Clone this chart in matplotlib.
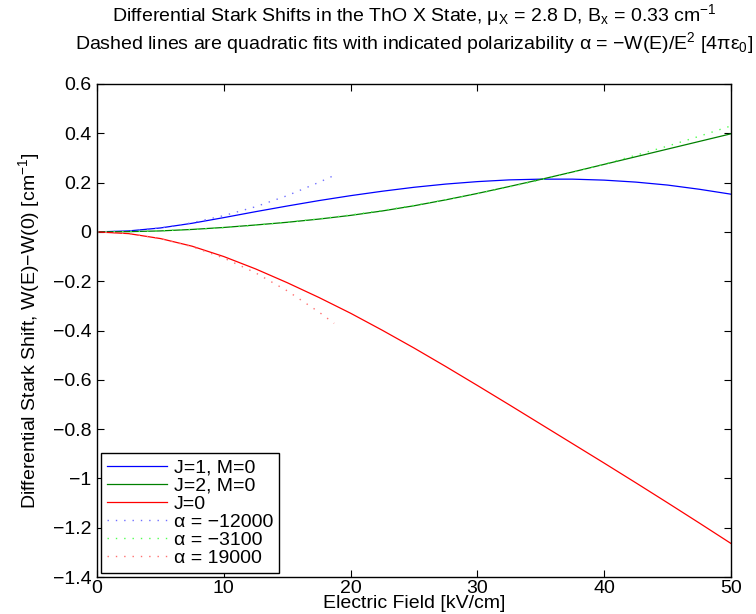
import matplotlib
matplotlib.use("Agg")
import matplotlib.pyplot as plt
import matplotlib.ticker as ticker

plt.rcParams["font.family"] = ["Liberation Sans", "DejaVu Sans"]
plt.rcParams["mathtext.fontset"] = "custom"
plt.rcParams["mathtext.rm"] = "Liberation Sans"
plt.rcParams["mathtext.it"] = "Liberation Sans:italic"

# === Data ===
field = [0, 2.5, 5, 7.5, 10, 12.5, 15, 17.5, 20, 22.5, 25, 27.5, 30,
         32.5, 35, 37.5, 40, 42.5, 45, 47.5, 50]

shift_j1 = [0, 0.004, 0.016, 0.035, 0.058, 0.082, 0.105, 0.127, 0.147, 0.165,
            0.181, 0.194, 0.204, 0.211, 0.214, 0.214, 0.210, 0.202, 0.190,
            0.173, 0.153]
shift_j2 = [0, 0.001, 0.004, 0.010, 0.018, 0.028, 0.039, 0.052, 0.067, 0.085,
            0.106, 0.130, 0.156, 0.184, 0.213, 0.243, 0.274, 0.305, 0.336,
            0.367, 0.398]
shift_j0 = [0, -0.007, -0.027, -0.058, -0.100, -0.150, -0.206, -0.266, -0.330,
            -0.399, -0.471, -0.546, -0.623, -0.701, -0.780, -0.859, -0.938,
            -1.018, -1.099, -1.181, -1.264]

# quadratic fit curves (dotted)
fit_field_short = [0, 2.5, 5, 7.5, 10, 12.5, 15, 17.5, 18.7]
fit_j1 = [0, 0.004, 0.016, 0.037, 0.066, 0.102, 0.147, 0.201, 0.229]
fit_j0 = [0, -0.007, -0.027, -0.060, -0.106, -0.166, -0.239, -0.325, -0.371]
fit_j2 = [0, 0.001, 0.004, 0.010, 0.017, 0.027, 0.039, 0.053, 0.069, 0.087,
          0.108, 0.130, 0.155, 0.182, 0.211, 0.242, 0.275, 0.311, 0.348,
          0.388, 0.430]

labels = ["J=1, M=0", "J=2, M=0", "J=0",
          "α = −12000", "α = −3100", "α = 19000"]

FS = 14

# === Figure ===
fig = plt.figure(figsize=(7.56, 6.14), dpi=100)
left, right, top, bottom = 97, 731, 84, 577
ax = fig.add_axes([left / 756, 1 - bottom / 614,
                   (right - left) / 756, (bottom - top) / 614])

ax.plot(field, shift_j1, color="#0000ff", lw=0.9, label=labels[0])
ax.plot(field, shift_j2, color="#008000", lw=0.9, label=labels[1])
ax.plot(field, shift_j0, color="#ff0000", lw=0.9, label=labels[2])

dots = (0, (1, 5))
ax.plot(fit_field_short, fit_j1, color="#7070ff", lw=1.0, ls=dots, label=labels[3])
ax.plot(field, fit_j2, color="#50ff50", lw=1.0, ls=dots, label=labels[4])
ax.plot(fit_field_short, fit_j0, color="#ff7070", lw=1.0, ls=dots, label=labels[5])

ax.set_xlim(0, 50)
ax.set_ylim(-1.4, 0.6)
ax.set_xticks([0, 10, 20, 30, 40, 50])
ax.set_yticks([0.6, 0.4, 0.2, 0, -0.2, -0.4, -0.6, -0.8, -1.0, -1.2, -1.4])
fmt = ticker.FuncFormatter(lambda v, _: f"{v:g}".replace("-", "\u2212"))
ax.yaxis.set_major_formatter(fmt)
ax.xaxis.set_major_formatter(fmt)
ax.tick_params(direction="in", length=5, width=0.8, top=True, right=True,
               labelsize=FS, pad=4)
ax.tick_params(axis="x", pad=2)
for sp in ax.spines.values():
    sp.set_linewidth(1.0)

ax.set_xlabel("Electric Field [kV/cm]", fontsize=FS, labelpad=-1)
ax.set_ylabel("Differential Stark Shift, W(E)\u2212W(0) [cm$^{-1}$]",
              fontsize=FS, labelpad=8)

title = ("Differential Stark Shifts in the ThO X State, μ$_\\mathrm{X}$ = 2.8 D, "
         "B$_\\mathrm{x}$ = 0.33 cm$^{-1}$\n"
         "Dashed lines are quadratic fits with indicated polarizability "
         "α = \u2212W(E)/E$^2$ [4πε$_0$]")
fig.text((left + right) / 2 / 756, 1 - 2 / 614, title, fontsize=FS,
         ha="center", va="top", linespacing=1.12)

leg = ax.legend(loc="lower left", fontsize=FS, frameon=True, fancybox=False,
                edgecolor="black", framealpha=1, handlelength=3.1,
                handletextpad=0.35, labelspacing=0.03, borderpad=0.3,
                borderaxespad=0.2)
leg.get_frame().set_linewidth(1.0)

plt.savefig("out.png", dpi=100)
